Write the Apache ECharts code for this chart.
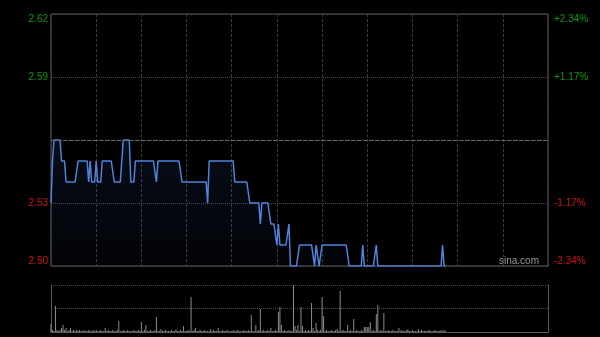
<!DOCTYPE html>
<html>
<head>
<meta charset="utf-8">
<script src="https://cdn.jsdelivr.net/npm/echarts@6/dist/echarts.min.js"></script>
<style>
html,body{margin:0;padding:0;background:#000;}
#c{width:600px;height:337px;}
</style>
</head>
<body>
<div id="c"></div>
<script>
// ---- data ----
const prevClose = 2.56;
const categories = (function(){
  const out = [];
  for (let m = 9*60+30; m <= 12*60; m++) out.push(Math.floor(m/60)+':'+String(m%60).padStart(2,'0'));
  for (let m = 13*60+1; m <= 16*60; m++) out.push(Math.floor(m/60)+':'+String(m%60).padStart(2,'0'));
  return out;
})();
const price = [
 2.53,2.55,2.56,2.56,2.56,2.56,2.56,2.55,2.55,2.55,
 2.54,2.54,2.54,2.54,2.54,2.54,2.54,2.54,2.55,2.55,
 2.55,2.55,2.55,2.55,2.55,2.54,2.55,2.54,2.54,2.54,
 2.55,2.54,2.54,2.54,2.55,2.55,2.55,2.55,2.55,2.55,
 2.55,2.55,2.54,2.54,2.54,2.54,2.54,2.54,2.56,2.56,
 2.56,2.56,2.56,2.54,2.54,2.54,2.55,2.55,2.55,2.55,
 2.55,2.55,2.55,2.55,2.55,2.55,2.55,2.55,2.55,2.55,
 2.54,2.55,2.55,2.55,2.55,2.55,2.55,2.55,2.55,2.55,
 2.55,2.55,2.55,2.55,2.55,2.55,2.55,2.54,2.54,2.54,
 2.54,2.54,2.54,2.54,2.54,2.54,2.54,2.54,2.54,2.54,
 2.54,2.54,2.54,2.54,2.53,2.55,2.55,2.55,2.55,2.55,
 2.55,2.55,2.55,2.55,2.55,2.55,2.55,2.55,2.55,2.55,
 2.55,2.55,2.54,2.54,2.54,2.54,2.54,2.54,2.54,2.54,
 2.54,2.54,2.53,2.53,2.53,2.53,2.53,2.53,2.53,2.52,
 2.53,2.53,2.53,2.53,2.53,2.53,2.52,2.52,2.52,2.52,
 2.51,2.52,2.51,2.51,2.51,2.51,2.51,2.51,2.52,2.50,
 2.50,2.50,2.50,2.50,2.50,2.51,2.51,2.51,2.51,2.51,
 2.51,2.51,2.51,2.51,2.51,2.50,2.51,2.51,2.50,2.50,
 2.51,2.51,2.51,2.51,2.51,2.51,2.51,2.51,2.51,2.51,
 2.51,2.51,2.51,2.51,2.51,2.51,2.51,2.51,2.50,2.50,
 2.50,2.50,2.50,2.50,2.50,2.50,2.50,2.51,2.50,2.50,
 2.50,2.50,2.50,2.50,2.50,2.50,2.51,2.50,2.50,2.50,
 2.50,2.50,2.50,2.50,2.50,2.50,2.50,2.50,2.50,2.50,
 2.50,2.50,2.50,2.50,2.50,2.50,2.50,2.50,2.50,2.50,
 2.50,2.50,2.50,2.50,2.50,2.50,2.50,2.50,2.50,2.50,
 2.50,2.50,2.50,2.50,2.50,2.50,2.50,2.50,2.50,2.50,
 2.51,2.50,2.50
];
const volume = [
 80,20,10,260,20,10,20,40,70,20,
 40,10,20,40,10,20,10,20,10,20,
 10,10,20,10,10,20,10,10,20,10,
 20,10,10,20,10,10,40,10,20,10,
 10,20,10,10,20,110,10,10,20,10,
 10,20,10,10,10,20,10,10,20,10,
 100,10,20,70,10,10,20,10,10,20,
 150,10,10,30,10,10,20,10,10,10,
 20,10,10,30,10,10,20,10,60,10,
 10,20,10,350,10,20,40,10,10,20,
 10,10,20,10,10,10,30,10,20,10,
 10,40,10,10,20,10,10,20,10,10,
 10,20,10,10,20,10,10,10,20,10,
 10,20,10,170,10,10,70,10,20,230,
 10,20,10,10,20,10,40,10,10,20,
 10,200,250,70,10,20,10,10,20,10,
 10,470,60,20,70,10,250,60,10,20,
 10,20,10,290,40,10,90,20,10,20,
 350,160,10,20,10,10,20,10,10,20,
 30,10,410,10,20,10,10,70,10,20,
 10,130,10,20,10,10,20,10,50,50,
 50,50,100,10,20,10,180,270,10,20,
 10,190,10,10,20,10,10,20,10,10,
 10,40,10,20,10,10,20,25,10,10,
 20,10,10,10,30,10,20,10,10,10,
 10,20,10,10,10,20,10,10,10,20,
 10,20,10
];
const tickValues = [-6,-3,0,3,6]; // cents from previous close
const priceTickLabels = ['2.50','2.53','','2.59','2.62'];
const pctTickLabels = ['-2.34%','-1.17%','','+1.17%','+2.34%'];
const volumeMax = 470;

// ---- chart ----
const green = '#0a9a0a', red = '#d01010';
const font = 'Liberation Sans, Arial, sans-serif';
const lblIdx = v => tickValues.indexOf(Math.round(v));
const chart = echarts.init(document.getElementById('c'));
chart.setOption({
  backgroundColor: '#000',
  animation: false,
  grid: [
    {left: 51, right: 52, top: 14, height: 252, show: true, borderColor: '#5a5a5a', borderWidth: 1, backgroundColor: 'transparent'},
    {left: 51, right: 52, top: 285, height: 47}
  ],
  xAxis: [
    {type: 'category', gridIndex: 0, data: categories, boundaryGap: false,
     axisLine: {show: false}, axisTick: {show: false}, axisLabel: {show: false},
     splitLine: {show: true, interval: 29, lineStyle: {color: '#3c3c3c', type: [3, 2], width: 1}}},
    {type: 'category', gridIndex: 1, data: categories, boundaryGap: false,
     axisLine: {show: true, lineStyle: {color: '#5a5a5a', width: 1}}, axisTick: {show: false}, axisLabel: {show: false},
     splitLine: {show: false}}
  ],
  yAxis: [
    {type: 'value', gridIndex: 0, min: -6, max: 6, interval: 3, position: 'left',
     axisLine: {show: false}, axisTick: {show: false},
     axisLabel: {margin: 3, fontSize: 10, fontFamily: font,
       formatter: v => priceTickLabels[lblIdx(v)] || '',
       color: v => (v > 0 ? green : red),
       verticalAlignMinLabel: 'bottom', verticalAlignMaxLabel: 'top'},
     splitLine: {show: true, lineStyle: {color: '#4a4a4a', type: [1, 1], width: 1}}},
    {type: 'value', gridIndex: 0, min: -6, max: 6, interval: 3, position: 'right',
     axisLine: {show: false}, axisTick: {show: false},
     axisLabel: {margin: 6, fontSize: 10, fontFamily: font,
       formatter: v => pctTickLabels[lblIdx(v)] || '',
       color: v => (v > 0 ? green : red),
       verticalAlignMinLabel: 'bottom', verticalAlignMaxLabel: 'top'},
     splitLine: {show: false}},
    {type: 'value', gridIndex: 1, min: 0, max: volumeMax, splitNumber: 2, interval: volumeMax/2, position: 'left',
     axisLine: {show: true, lineStyle: {color: '#5a5a5a', width: 1}}, axisTick: {show: false}, axisLabel: {show: false},
     splitLine: {show: true, lineStyle: {color: '#4a4a4a', type: [1, 1], width: 1}}},
    {type: 'value', gridIndex: 1, min: 0, max: volumeMax, position: 'right',
     axisLine: {show: true, lineStyle: {color: '#5a5a5a', width: 1}}, axisTick: {show: false}, axisLabel: {show: false},
     splitLine: {show: false}}
  ],
  series: [
    {type: 'line', xAxisIndex: 0, yAxisIndex: 0,
     data: price.map(p => Math.round((p - prevClose) * 10000) / 100),
     symbol: 'none', smooth: false,
     lineStyle: {color: '#4d84dc', width: 1.5},
     areaStyle: {origin: 'start', color: new echarts.graphic.LinearGradient(0, 0, 0, 1, [
       {offset: 0, color: 'rgba(45,85,165,0.22)'},
       {offset: 1, color: 'rgba(45,85,165,0.06)'}
     ])},
     markLine: {silent: true, symbol: 'none', label: {show: false},
       lineStyle: {color: '#6a6a6a', type: [4, 2], width: 1},
       data: [{yAxis: 0}]}
    },
    {type: 'bar', xAxisIndex: 1, yAxisIndex: 2, data: volume, barWidth: 1,
     itemStyle: {color: '#8c8c8c'}}
  ],
  graphic: [
    {type: 'text', left: 499, top: 256, silent: true,
     style: {text: 'sina.com', fill: '#9a9a9a', font: '10px ' + font}}
  ]
});
</script>
</body>
</html>
